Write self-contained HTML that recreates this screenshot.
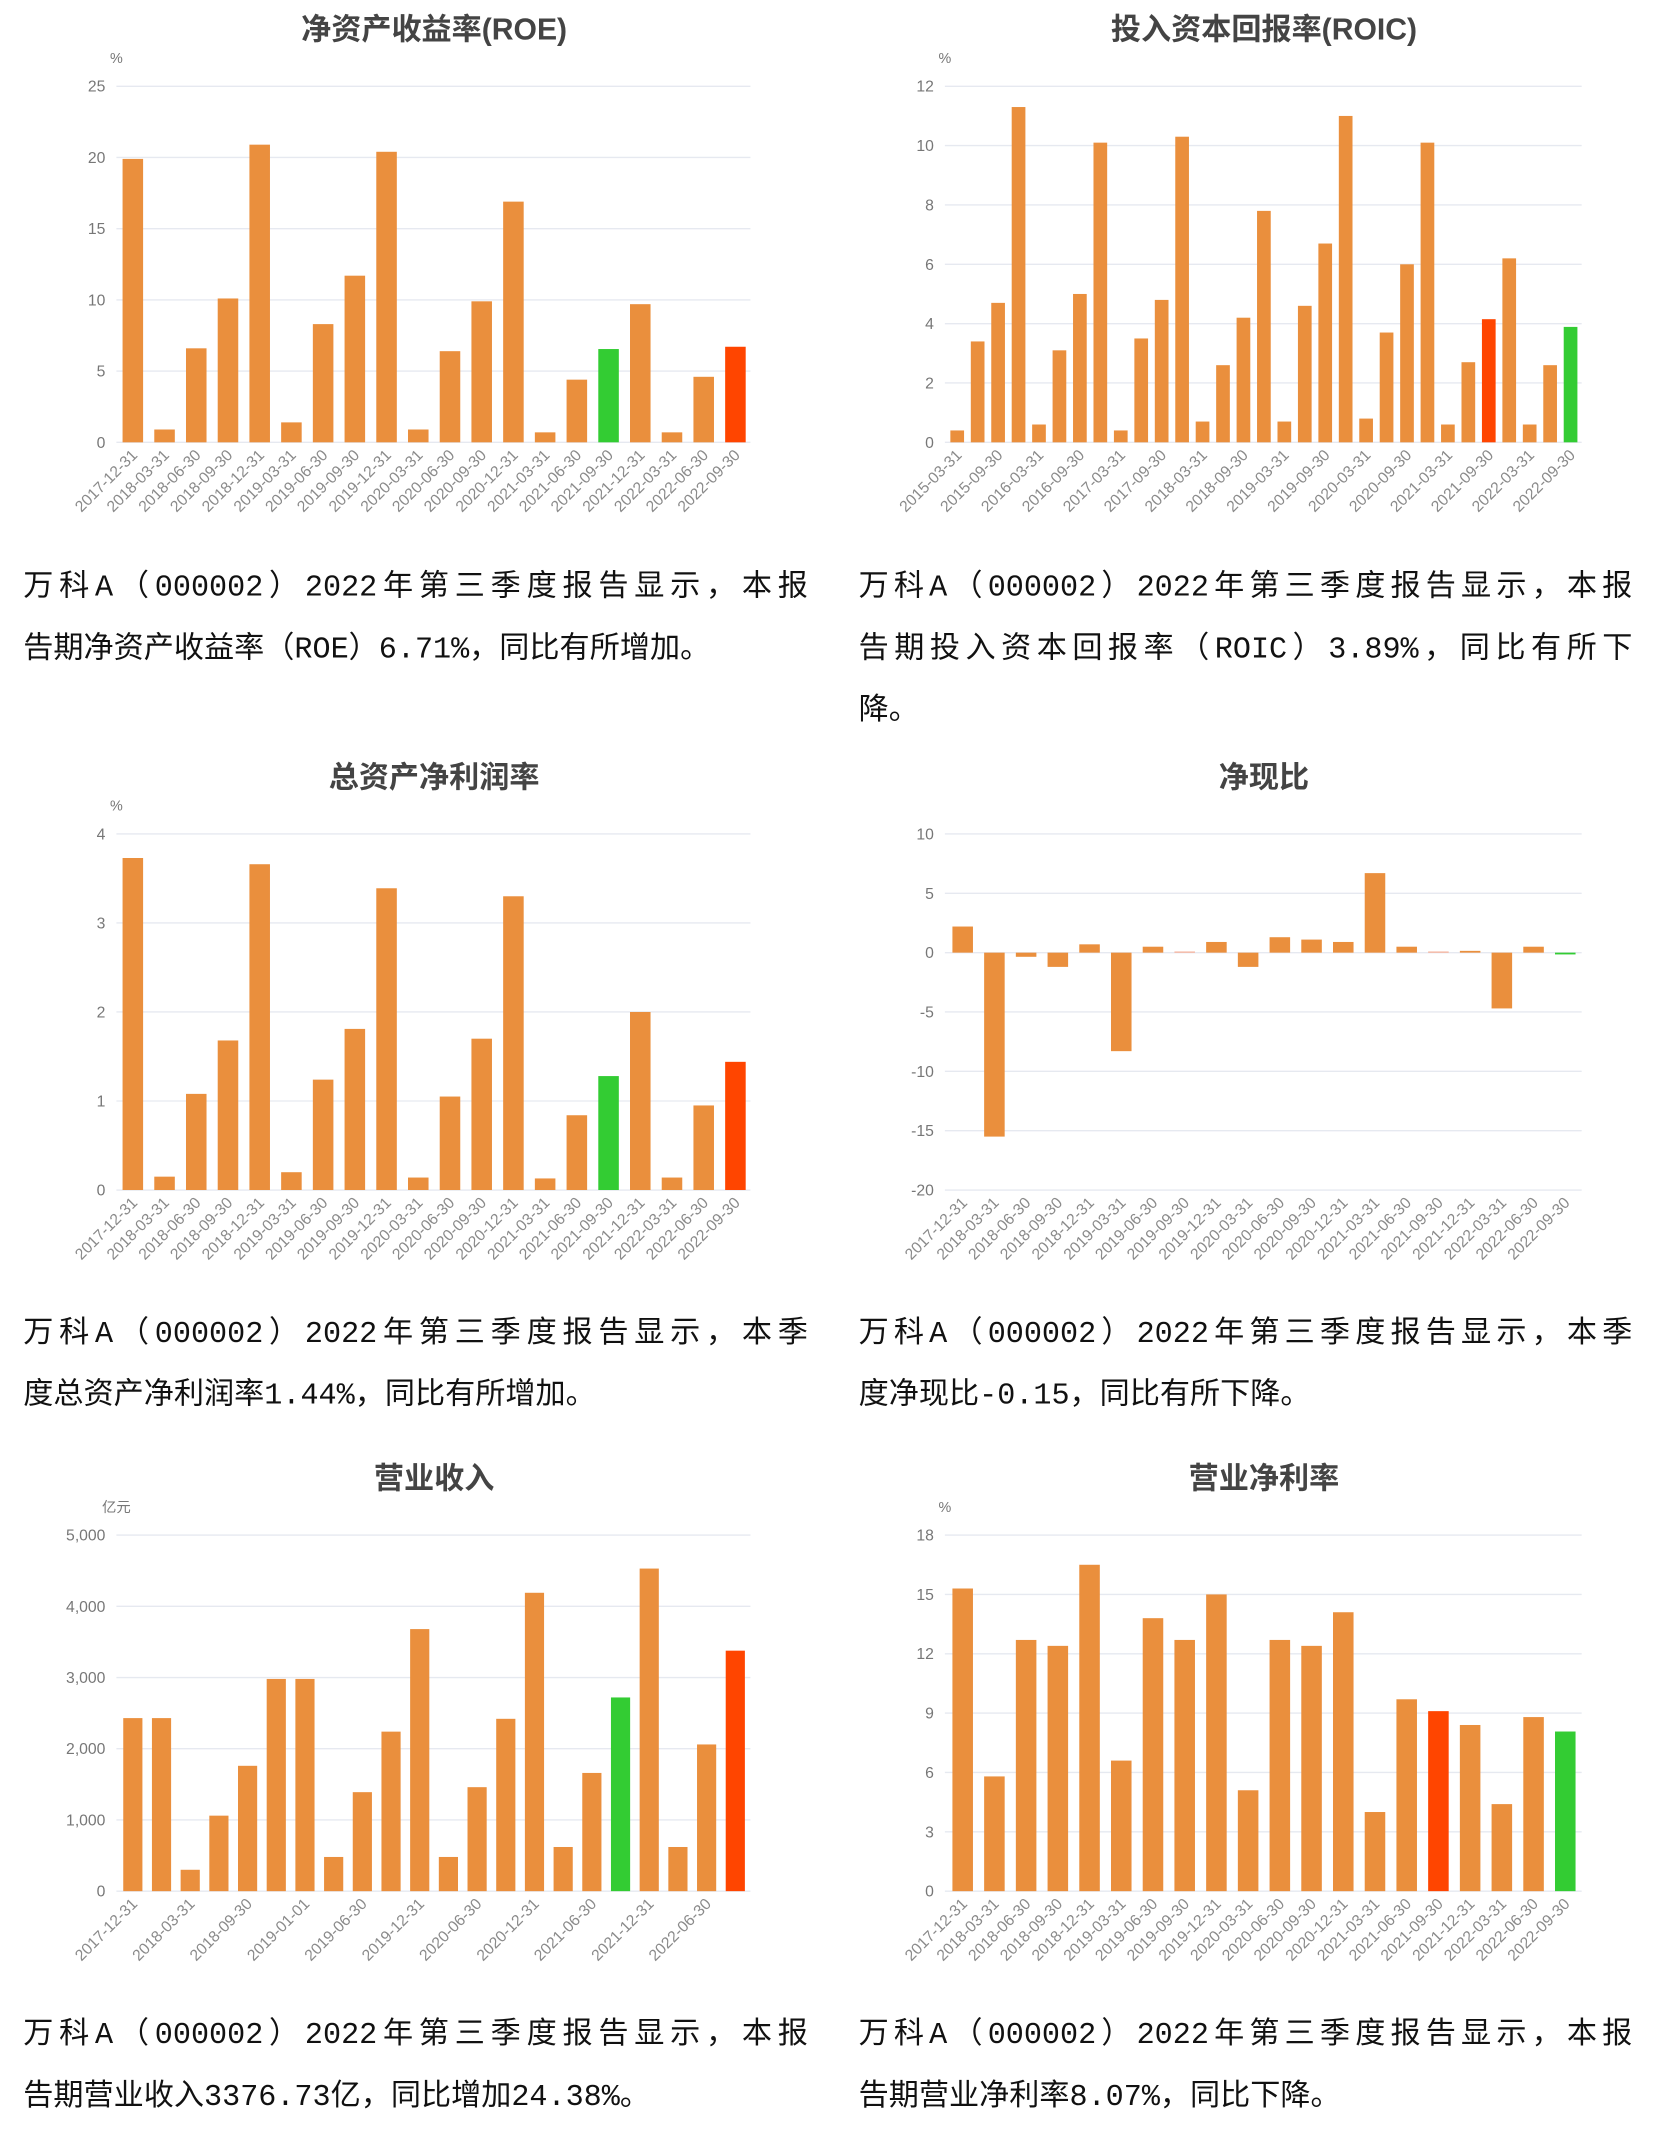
<!DOCTYPE html>
<html><head><meta charset="utf-8">
<style>
html,body{margin:0;padding:0;background:#fff;}
#wrap{position:absolute;left:0;top:0;width:1210px;height:1574px;transform:scale(1.3694);transform-origin:0 0;}
svg{position:absolute;left:0;top:0;}
.cap{position:absolute;font-family:"Liberation Mono","Noto Sans CJK SC",monospace;font-size:22px;line-height:30px;color:#111;white-space:nowrap;}
.j{text-align:justify;text-align-last:justify;}
</style></head><body>
<div id="wrap">
<svg id="s" width="1210" height="1574" xmlns="http://www.w3.org/2000/svg" font-family="'Liberation Sans','Noto Sans CJK SC',sans-serif"></svg>

<div class="cap" style="left:17px;top:415px;width:573px"><div class="j">万科A（000002）2022年第三季度报告显示，本报</div><div style="margin-top:15px">告期净资产收益率（ROE）6.71%，同比有所增加。</div></div>
<div class="cap" style="left:627px;top:415px;width:565px"><div class="j">万科A（000002）2022年第三季度报告显示，本报</div><div class="j" style="margin-top:15px">告期投入资本回报率（ROIC）3.89%，同比有所下</div><div style="margin-top:15px">降。</div></div>
<div class="cap" style="left:17px;top:960px;width:573px"><div class="j">万科A（000002）2022年第三季度报告显示，本季</div><div style="margin-top:15px">度总资产净利润率1.44%，同比有所增加。</div></div>
<div class="cap" style="left:627px;top:960px;width:565px"><div class="j">万科A（000002）2022年第三季度报告显示，本季</div><div style="margin-top:15px">度净现比-0.15，同比有所下降。</div></div>
<div class="cap" style="left:17px;top:1472px;width:573px"><div class="j">万科A（000002）2022年第三季度报告显示，本报</div><div style="margin-top:15px">告期营业收入3376.73亿，同比增加24.38%。</div></div>
<div class="cap" style="left:627px;top:1472px;width:565px"><div class="j">万科A（000002）2022年第三季度报告显示，本报</div><div style="margin-top:15px">告期营业净利率8.07%，同比下降。</div></div>
</div>
<script>
const S=document.getElementById('s');let h='';
const O='#ea8f3d',G='#33cc33',R='#ff4500';
function chart(o){
 let {x0,x1,yT,yB,min,max,ticks,vals,labels,c0,step,bw,every,title,tx,unit,tfmt}=o;
 yT+=1;yB+=1;
 h+=`<text x="${tx}" y="${yT-34}" text-anchor="middle" font-size="22" font-weight="bold" fill="#444">${title}</text>`;
 if(unit)h+=`<text x="${x0}" y="${yT-17}" text-anchor="middle" font-size="10.5" fill="#777">${unit}</text>`;
 const Y=v=>yB-(v-min)/(max-min)*(yB-yT);
 ticks.forEach(t=>{const y=Y(t);h+=`<line x1="${x0}" x2="${x1}" y1="${y}" y2="${y}" stroke="#e6e9f0" stroke-width="1"/>`;
  h+=`<text x="${x0-8}" y="${y+4}" text-anchor="end" font-size="11.5" fill="#777">${tfmt?tfmt(t):t}</text>`;});
 const z=Y(Math.max(min,0));
 vals.forEach((v,i)=>{const cx=c0+i*step;const y=Y(v);const c=(o.col&&o.col[i])||O;
  const top=Math.min(y,z),ht=Math.max(Math.abs(y-z),1);
  h+=`<rect x="${cx-bw/2}" y="${top}" width="${bw}" height="${ht}" fill="${c}"/>`;});
 labels.forEach((l,k)=>{const i=k*every;const cx=c0+i*step+4;const ly=yB+10;
  h+=`<text transform="translate(${cx},${ly}) rotate(-45)" text-anchor="end" font-size="11.5" fill="#8a8a8a">${l}</text>`;});
}
const L20=['2017-12-31','2018-03-31','2018-06-30','2018-09-30','2018-12-31','2019-03-31','2019-06-30','2019-09-30','2019-12-31','2020-03-31','2020-06-30','2020-09-30','2020-12-31','2021-03-31','2021-06-30','2021-09-30','2021-12-31','2022-03-31','2022-06-30','2022-09-30'];
function cols(g,r){const a=[];if(g!=null)a[g]=G;if(r!=null)a[r]=R;return a;}
chart({title:'净资产收益率(ROE)',tx:317,unit:'%',x0:85,x1:548,yT:62,yB:322,min:0,max:25,ticks:[0,5,10,15,20,25],
 vals:[19.9,0.9,6.6,10.1,20.9,1.4,8.3,11.7,20.4,0.9,6.4,9.9,16.9,0.7,4.4,6.55,9.7,0.7,4.6,6.71],col:cols(15,19),
 labels:L20,c0:97,step:23.16,bw:15,every:1});
const LR=[];for(let y=2015;y<=2022;y++){LR.push(y+'-03-31');LR.push(y+'-09-30');}
chart({title:'投入资本回报率(ROIC)',tx:923,unit:'%',x0:690,x1:1155,yT:62,yB:322,min:0,max:12,ticks:[0,2,4,6,8,10,12],
 vals:[0.4,3.4,4.7,11.3,0.6,3.1,5.0,10.1,0.4,3.5,4.8,10.3,0.7,2.6,4.2,7.8,0.7,4.6,6.7,11.0,0.8,3.7,6.0,10.1,0.6,2.7,4.15,6.2,0.6,2.6,3.89],
 col:cols(30,26),labels:LR,c0:699,step:14.93,bw:10,every:2});
chart({title:'总资产净利润率',tx:317,unit:'%',x0:85,x1:548,yT:608,yB:868,min:0,max:4,ticks:[0,1,2,3,4],
 vals:[3.73,0.15,1.08,1.68,3.66,0.2,1.24,1.81,3.39,0.14,1.05,1.7,3.3,0.13,0.84,1.28,2.0,0.14,0.95,1.44],col:cols(15,19),
 labels:L20,c0:97,step:23.16,bw:15,every:1});
const nc=cols(19,null);nc[7]='#f5b5a0';nc[15]='#f5b5a0';
chart({title:'净现比',tx:923,unit:'',x0:690,x1:1155,yT:608,yB:868,min:-20,max:10,ticks:[-20,-15,-10,-5,0,5,10],
 vals:[2.2,-15.5,-0.35,-1.2,0.7,-8.3,0.5,0.1,0.9,-1.2,1.3,1.1,0.9,6.7,0.5,0.1,0.15,-4.7,0.5,-0.15],col:nc,
 labels:L20,c0:703,step:23.16,bw:15,every:1});
chart({title:'营业收入',tx:317,unit:'亿元',x0:85,x1:548,yT:1120,yB:1380,min:0,max:5000,ticks:[0,1000,2000,3000,4000,5000],
 tfmt:t=>t.toLocaleString('en-US'),
 vals:[2430,2430,300,1060,1760,2980,2980,480,1390,2240,3680,480,1460,2420,4190,620,1660,2720,4530,620,2060,3377],col:cols(17,21),
 labels:['2017-12-31','2018-03-31','2018-09-30','2019-01-01','2019-06-30','2019-12-31','2020-06-30','2020-12-31','2021-06-30','2021-12-31','2022-06-30'],
 c0:97,step:20.95,bw:14,every:2});
chart({title:'营业净利率',tx:923,unit:'%',x0:690,x1:1155,yT:1120,yB:1380,min:0,max:18,ticks:[0,3,6,9,12,15,18],
 vals:[15.3,5.8,12.7,12.4,16.5,6.6,13.8,12.7,15.0,5.1,12.7,12.4,14.1,4.0,9.7,9.1,8.4,4.4,8.8,8.07],col:cols(19,15),
 labels:L20,c0:703,step:23.16,bw:15,every:1});
S.innerHTML=h;
</script>
</body></html>
